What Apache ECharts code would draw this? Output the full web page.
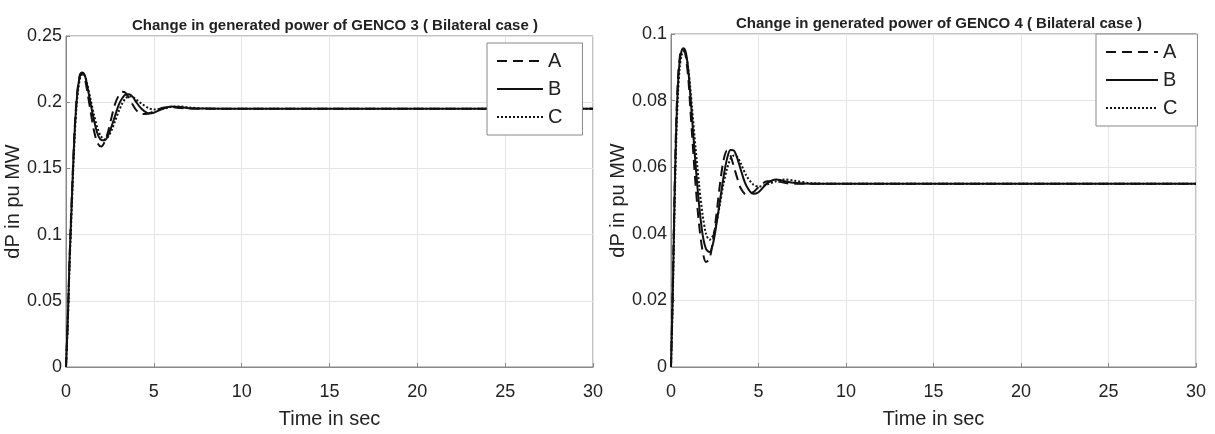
<!DOCTYPE html>
<html>
<head>
<meta charset="utf-8">
<script src="https://cdn.jsdelivr.net/npm/echarts@6/dist/echarts.min.js"></script>
<style>
  html, body { margin: 0; padding: 0; background: #fff; }
  #chart { width: 1215px; height: 434px; }
</style>
</head>
<body>
<div id="chart"></div>
<script>
const FONT = "'Liberation Sans', Arial, sans-serif"

// time samples (s), shared by all curves
const time = [0, 0.1, 0.2, 0.3, 0.4, 0.5, 0.6, 0.7, 0.8, 0.9, 1.0, 1.1, 1.2, 1.4, 1.6, 1.8, 2.0, 2.2, 2.4, 2.6, 2.8, 3.0, 3.2, 3.4, 3.6, 3.8, 4.0, 4.3, 4.7, 5.0, 5.5, 6.0, 6.5, 7.0, 8, 10, 30]

// GENCO 3
const genco3A = [0, 0.035, 0.08, 0.118, 0.152, 0.182, 0.202, 0.214, 0.221, 0.222, 0.22, 0.216, 0.209, 0.193, 0.178, 0.169, 0.1665, 0.17, 0.178, 0.189, 0.199, 0.205, 0.2078, 0.207, 0.203, 0.198, 0.194, 0.191, 0.1915, 0.193, 0.1958, 0.1962, 0.1957, 0.1952, 0.195, 0.195, 0.195]
const genco3B = [0, 0.035, 0.08, 0.115, 0.15, 0.18, 0.2, 0.213, 0.22, 0.2225, 0.222, 0.219, 0.213, 0.199, 0.186, 0.176, 0.1715, 0.1712, 0.175, 0.182, 0.19, 0.198, 0.203, 0.2058, 0.206, 0.204, 0.2, 0.195, 0.1915, 0.192, 0.195, 0.1968, 0.1963, 0.1955, 0.1952, 0.195, 0.195]
const genco3C = [0, 0.033, 0.076, 0.11, 0.145, 0.175, 0.197, 0.21, 0.218, 0.221, 0.221, 0.219, 0.214, 0.202, 0.19, 0.18, 0.174, 0.172, 0.174, 0.179, 0.186, 0.193, 0.199, 0.203, 0.2045, 0.204, 0.202, 0.199, 0.1955, 0.1945, 0.195, 0.1965, 0.1968, 0.196, 0.1952, 0.195, 0.195]

// GENCO 4
const genco4A = [0, 0.024, 0.052, 0.074, 0.087, 0.093, 0.0955, 0.0955, 0.0945, 0.091, 0.086, 0.078, 0.07, 0.055, 0.043, 0.035, 0.0315, 0.0325, 0.038, 0.046, 0.055, 0.062, 0.065, 0.0635, 0.06, 0.0565, 0.0535, 0.0518, 0.0525, 0.054, 0.0558, 0.0558, 0.0553, 0.055, 0.055, 0.055, 0.055]
const genco4B = [0, 0.022, 0.05, 0.072, 0.085, 0.092, 0.0948, 0.0957, 0.0952, 0.093, 0.0885, 0.082, 0.075, 0.061, 0.049, 0.04, 0.0355, 0.0345, 0.037, 0.043, 0.05, 0.057, 0.0625, 0.0652, 0.065, 0.0625, 0.059, 0.0545, 0.052, 0.0525, 0.0552, 0.0563, 0.0558, 0.0553, 0.055, 0.055, 0.055]
const genco4C = [0, 0.02, 0.046, 0.068, 0.082, 0.09, 0.0935, 0.0948, 0.0945, 0.0925, 0.089, 0.084, 0.078, 0.066, 0.055, 0.046, 0.04, 0.0382, 0.0395, 0.0435, 0.049, 0.055, 0.0595, 0.0625, 0.0635, 0.063, 0.061, 0.0575, 0.0548, 0.0542, 0.0548, 0.0558, 0.0563, 0.056, 0.0552, 0.055, 0.055]

const seriesNames = ['A', 'B', 'C']
const lineTypes = [[10, 6], 'solid', [2, 2]]

function pairs (ys) {
  return time.map((t, i) => [t, ys[i]])
}

function makeSeries (axisIndex, data) {
  return data.map((ys, k) => ({
    name: seriesNames[k],
    type: 'line',
    xAxisIndex: axisIndex,
    yAxisIndex: axisIndex,
    showSymbol: false,
    symbol: 'none',
    smooth: 0.3,
    z: 3 - k,
    lineStyle: { color: '#111', width: 2, type: lineTypes[k] },
    itemStyle: { color: '#111' },
    data: pairs(ys)
  }))
}

function xAxis (gridIndex) {
  return {
    type: 'value',
    gridIndex: gridIndex,
    min: 0,
    max: 30,
    interval: 5,
    name: 'Time in sec',
    nameLocation: 'middle',
    nameGap: 42,
    nameTextStyle: { fontFamily: FONT, fontSize: 20, color: '#222' },
    axisLine: { show: true, lineStyle: { color: '#888' } },
    axisTick: { show: true, inside: true, length: 4, lineStyle: { color: '#888' } },
    axisLabel: { margin: 16, fontFamily: FONT, fontSize: 18, color: '#222' },
    splitLine: { show: true, lineStyle: { color: '#e4e4e4' } }
  }
}

function yAxis (gridIndex, max, interval) {
  return {
    type: 'value',
    gridIndex: gridIndex,
    min: 0,
    max: max,
    interval: interval,
    name: 'dP in pu MW',
    nameLocation: 'middle',
    nameGap: 36,
    nameTextStyle: { fontFamily: FONT, fontSize: 20, color: '#222' },
    axisLine: { show: true, lineStyle: { color: '#888' } },
    axisTick: { show: true, inside: true, length: 4, lineStyle: { color: '#888' } },
    axisLabel: { margin: 4, fontFamily: FONT, fontSize: 18, color: '#222' },
    splitLine: { show: true, lineStyle: { color: '#e4e4e4' } }
  }
}

function legend (left, top, itemWidth, seriesIndex) {
  return {
    orient: 'vertical',
    left: left,
    top: top,
    data: seriesNames,
    seriesIndex: seriesIndex,
    itemWidth: itemWidth,
    itemHeight: 20,
    itemGap: 8,
    padding: [8, 20, 8, 9],
    backgroundColor: '#fff',
    borderColor: '#888',
    borderWidth: 1,
    borderRadius: 0,
    itemStyle: { opacity: 0 },
    lineStyle: { opacity: 1, width: 2 },
    textStyle: { fontFamily: FONT, fontSize: 20, color: '#222' },
    selectedMode: false
  }
}

const chart = echarts.init(document.getElementById('chart'), null, { renderer: 'canvas' })

const option = {
  animation: false,
  backgroundColor: '#fff',
  title: [{
    text: 'Change in generated power of GENCO 3 ( Bilateral case )',
    left: 330,
    top: 13,
    textAlign: 'center',
    textStyle: { fontFamily: FONT, fontSize: 15, fontWeight: 'bold', color: '#222' }
  }, {
    text: 'Change in generated power of GENCO 4 ( Bilateral case )',
    left: 934,
    top: 11,
    textAlign: 'center',
    textStyle: { fontFamily: FONT, fontSize: 15, fontWeight: 'bold', color: '#222' }
  }],
  grid: [
    { left: 66, top: 36, width: 527, height: 337, show: true, borderColor: '#888', borderWidth: 1 },
    { left: 671, top: 34, width: 525, height: 337, show: true, borderColor: '#888', borderWidth: 1 }
  ],
  xAxis: [xAxis(0), xAxis(1)],
  yAxis: [yAxis(0, 0.25, 0.05), yAxis(1, 0.1, 0.02)],
  legend: [
    legend(487, 43, 46, [0, 1, 2]),
    legend(1096, 34, 52, [3, 4, 5])
  ],
  series: makeSeries(0, [genco3A, genco3B, genco3C]).concat(makeSeries(1, [genco4A, genco4B, genco4C]))
}

chart.setOption(option)
</script>
</body>
</html>
